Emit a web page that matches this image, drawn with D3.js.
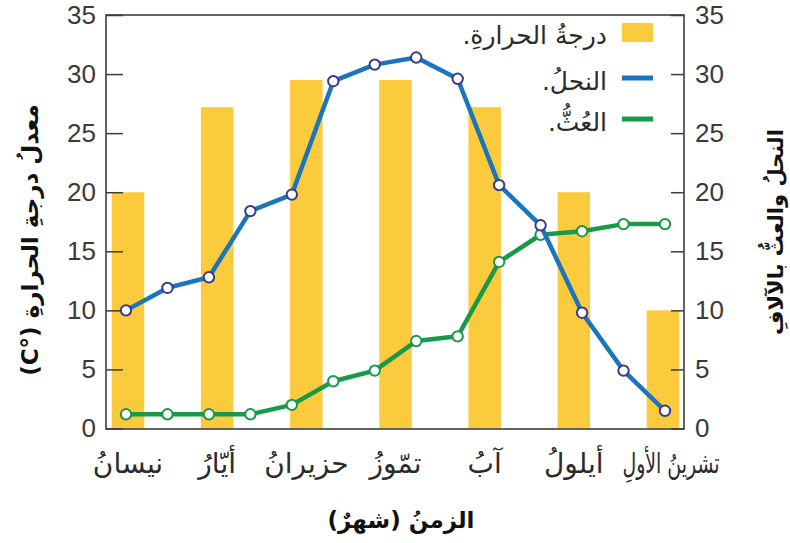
<!DOCTYPE html>
<html><head><meta charset="utf-8">
<script src="https://cdn.jsdelivr.net/npm/d3@7"></script>
<style>body{margin:0;background:#fff} svg{display:block}</style>
</head><body>
<svg id="chart" width="790" height="543"></svg>
<script>
// Monthly average temperature (bars) with bee and moth counts in thousands (lines)
const months = ["نيسانُ", "أيّارُ", "حزيرانُ", "تمّوزُ", "آبُ", "أيلولُ", "تشرينُ الأولِ"];
const temperature = [20, 27.2, 29.5, 29.5, 27.2, 20, 10];
// two samples per month
const bees = [10, 11.9, 12.8, 18.4, 19.8, 29.4, 30.8, 31.4, 29.6, 20.6, 17.2, 9.8, 4.9, 1.5];
const moths = [1.2, 1.2, 1.2, 1.2, 2.0, 4.0, 4.9, 7.4, 7.8, 14.1, 16.4, 16.7, 17.3, 17.3];
const yTicks = [0, 5, 10, 15, 20, 25, 30, 35];
const legendLabels = ["درجةُ الحرارةِ.", "النحلُ.", "العُثُّ."];
const xTitle = "الزمنُ (شهرٌ)";
const yTitleLeft = "معدلُ درجةِ الحرارةِ (°C)";
const yTitleRight = "النحلُ والعثُّ بالآلافِ";

const colors = { bar: "#fccb3d", bees: "#1b75bc", moths: "#199a4a", beeMarker: "#3a3a8e", frame: "#3d3d3d", text: "#2b2b2b" };
const arabicFont = "'DejaVu Sans', sans-serif";
const numFont = "'Liberation Sans', Arial, sans-serif";

const svg = d3.select("#chart");
const plot = { left: 106, right: 684, top: 15, bottom: 429 };

const xMonth = d3.scalePoint().domain(months).range([128, 663]);
const xSample = d3.scalePoint().domain(d3.range(bees.length)).range([126, 665]);
const y = d3.scaleLinear().domain([0, 35]).range([428.5, plot.top]);
const yRight = d3.scaleLinear().domain([0, 35]).range([428.5, plot.top]);

// bars
const barW = 32.5;
svg.append("g").selectAll("rect").data(temperature).join("rect")
  .attr("x", (d, i) => xMonth(months[i]) - barW / 2)
  .attr("y", d => y(d))
  .attr("width", barW)
  .attr("height", d => y(0) - y(d))
  .attr("fill", colors.bar);

// frame
svg.append("rect")
  .attr("x", plot.left).attr("y", plot.top)
  .attr("width", plot.right - plot.left).attr("height", plot.bottom - plot.top)
  .attr("fill", "none").attr("stroke", colors.frame).attr("stroke-width", 1.6);

// axes
const leftAxis = svg.append("g").attr("transform", `translate(${plot.left},0)`)
  .call(d3.axisLeft(y).tickValues(yTicks).tickSize(-17).tickPadding(10));
const rightAxis = svg.append("g").attr("transform", `translate(${plot.right},0)`)
  .call(d3.axisRight(yRight).tickValues(yTicks).tickSize(-13).tickPadding(11));
[leftAxis, rightAxis].forEach(ax => {
  ax.select(".domain").remove();
  ax.selectAll(".tick line").attr("stroke", colors.frame).attr("stroke-width", 1.5);
  ax.selectAll(".tick text").attr("font-family", numFont).attr("font-size", 26).attr("fill", "#3a3a3a");
});

// lines
function drawSeries(values, stroke, markerStroke) {
  const line = d3.line().x((d, i) => xSample(i)).y(d => y(d));
  svg.append("path").datum(values)
    .attr("d", line).attr("fill", "none")
    .attr("stroke", stroke).attr("stroke-width", 4.5).attr("stroke-linejoin", "round");
  svg.append("g").selectAll("circle").data(values).join("circle")
    .attr("cx", (d, i) => xSample(i)).attr("cy", d => y(d)).attr("r", 5.2)
    .attr("fill", "#fff").attr("stroke", markerStroke).attr("stroke-width", 2);
}
drawSeries(moths, colors.moths, colors.moths);
drawSeries(bees, colors.bees, colors.beeMarker);

// month labels (the last, two-word label is set condensed)
const lastMonth = months[months.length - 1];
svg.append("g").selectAll("text").data(months).join("text")
  .attr("x", d => xMonth(d) + (d === lastMonth ? 8 : 0)).attr("y", 473)
  .attr("text-anchor", "middle").attr("direction", "rtl")
  .attr("font-family", arabicFont).attr("font-size", 28).attr("fill", colors.text)
  .each(function (d) {
    if (d === lastMonth) d3.select(this).attr("textLength", 97).attr("lengthAdjust", "spacingAndGlyphs");
  })
  .text(d => d);

// axis titles
svg.append("text").attr("x", 401).attr("y", 528)
  .attr("text-anchor", "middle").attr("direction", "rtl")
  .attr("font-family", arabicFont).attr("font-size", 23).attr("font-weight", "bold").attr("fill", "#111")
  .text(xTitle);
svg.append("text").attr("transform", "translate(38,240) rotate(-90)")
  .attr("text-anchor", "middle").attr("direction", "rtl")
  .attr("font-family", arabicFont).attr("font-size", 23).attr("font-weight", "bold").attr("fill", "#111")
  .text(yTitleLeft);
svg.append("text").attr("transform", "translate(783,232) rotate(-90)")
  .attr("text-anchor", "middle").attr("direction", "rtl")
  .attr("font-family", arabicFont).attr("font-size", 21).attr("font-weight", "bold").attr("fill", "#111")
  .text(yTitleRight);

// legend
const legend = svg.append("g");
const legendY = [32, 78, 119];
legend.append("rect").attr("x", 622).attr("y", 23).attr("width", 31).attr("height", 19).attr("fill", colors.bar);
legend.append("line").attr("x1", 622).attr("x2", 653).attr("y1", legendY[1]).attr("y2", legendY[1])
  .attr("stroke", colors.bees).attr("stroke-width", 5);
legend.append("line").attr("x1", 622).attr("x2", 653).attr("y1", legendY[2]).attr("y2", legendY[2])
  .attr("stroke", colors.moths).attr("stroke-width", 5);
legend.selectAll("text").data(legendLabels).join("text")
  .attr("x", 607).attr("y", (d, i) => legendY[i] + 12)
  .attr("text-anchor", "start").attr("direction", "rtl")
  .attr("font-family", arabicFont).attr("font-size", 25).attr("fill", colors.text)
  .text(d => d);
</script>
</body></html>
